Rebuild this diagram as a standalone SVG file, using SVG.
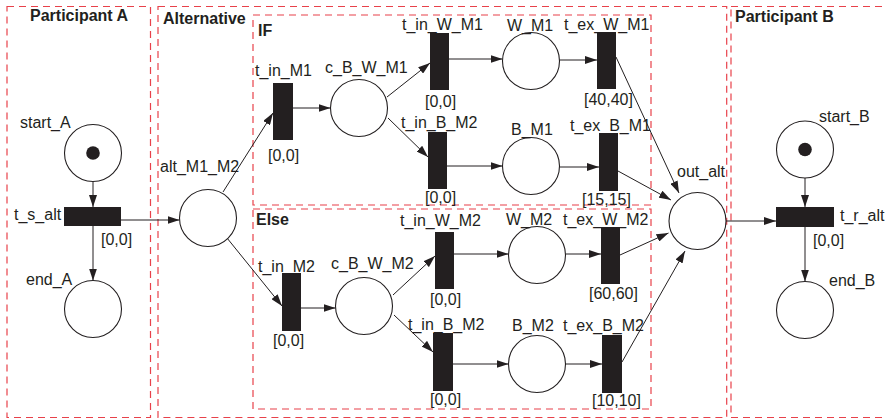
<svg xmlns="http://www.w3.org/2000/svg" width="887" height="418" viewBox="0 0 887 418">
<defs>
<marker id="ah" markerUnits="userSpaceOnUse" markerWidth="12" markerHeight="8" refX="12" refY="4" orient="auto">
<path d="M0,0 L12,4 L0,8 z" fill="#231f20"/>
</marker>
<style>
.box{fill:none;stroke:#e8414a;stroke-width:1.2;stroke-dasharray:7,5}
.pl{fill:#fff;stroke:#231f20;stroke-width:1.1}
.tok{fill:#231f20}
.tr{fill:#231f20}
.lbl{font-family:"Liberation Sans",Arial,sans-serif;font-size:16px;fill:#231f20}
.ttl{font-family:"Liberation Sans",Arial,sans-serif;font-size:16px;font-weight:bold;fill:#231f20}
#connectors line{stroke:#231f20;stroke-width:1;marker-end:url(#ah)}
</style>
</defs>
<rect width="887" height="418" fill="#fff"/>

<g id="containers">
<rect class="box" x="7" y="6.5" width="143.5" height="411"/>
<rect class="box" x="158" y="6.5" width="568.7" height="411"/>
<rect class="box" x="731" y="6.5" width="170" height="411"/>
<rect class="box" x="253" y="15" width="398" height="190"/>
<rect class="box" x="253" y="209" width="398" height="200"/>
<text class="ttl" x="30" y="21">Participant A</text>
<text class="ttl" x="163" y="24">Alternative</text>
<text class="ttl" x="735" y="21.5">Participant B</text>
<text class="ttl" x="258" y="36">IF</text>
<text class="ttl" x="256" y="225">Else</text>
</g>

<g id="connectors">
<line x1="93" y1="181.5" x2="93" y2="207"/>
<line x1="93" y1="226" x2="93" y2="280.5"/>
<line x1="121" y1="220" x2="179.5" y2="220"/>
<line x1="223" y1="192" x2="273" y2="113"/>
<line x1="227" y1="238" x2="282" y2="306"/>
<line x1="293" y1="108" x2="330.5" y2="108"/>
<line x1="387" y1="97" x2="430" y2="63"/>
<line x1="388" y1="118" x2="428" y2="157"/>
<line x1="449" y1="59" x2="502.5" y2="59"/>
<line x1="559.5" y1="60" x2="597" y2="60"/>
<line x1="447" y1="166" x2="502.5" y2="166"/>
<line x1="559.5" y1="167" x2="599" y2="167"/>
<line x1="301" y1="308" x2="335.5" y2="308"/>
<line x1="393" y1="295" x2="435" y2="256"/>
<line x1="394" y1="315" x2="433" y2="352"/>
<line x1="454" y1="254" x2="508.5" y2="254"/>
<line x1="565.5" y1="254" x2="601" y2="254"/>
<line x1="453" y1="364" x2="508.5" y2="364"/>
<line x1="565.5" y1="364" x2="602" y2="364"/>
<line x1="616" y1="57" x2="679" y2="193"/>
<line x1="618" y1="171" x2="671" y2="200"/>
<line x1="620" y1="255" x2="668.5" y2="233"/>
<line x1="622" y1="362" x2="685" y2="251"/>
<line x1="726" y1="221" x2="776" y2="221"/>
<line x1="805" y1="178" x2="805" y2="207"/>
<line x1="805" y1="227" x2="805" y2="281.5"/>
</g>

<g id="start_A"><circle class="pl" cx="93" cy="153" r="28.5"/><circle class="tok" cx="93" cy="153" r="6.8"/><text class="lbl" x="20" y="128">start_A</text></g>
<g id="end_A"><circle class="pl" cx="93" cy="309" r="28.5"/><text class="lbl" x="26" y="285">end_A</text></g>
<g id="t_s_alt"><rect class="tr" x="64" y="207" width="57" height="19"/><text class="lbl" x="14" y="220">t_s_alt</text><text class="lbl" x="101" y="245">[0,0]</text></g>
<g id="alt_M1_M2"><circle class="pl" cx="208" cy="218" r="28.5"/><text class="lbl" x="160" y="171.5">alt_M1_M2</text></g>

<g id="t_in_M1"><rect class="tr" x="273" y="83" width="20" height="57"/><text class="lbl" x="255" y="76">t_in_M1</text><text class="lbl" x="268" y="161">[0,0]</text></g>
<g id="c_B_W_M1"><circle class="pl" cx="359" cy="108" r="28.5"/><text class="lbl" x="325" y="73">c_B_W_M1</text></g>
<g id="t_in_W_M1"><rect class="tr" x="430" y="33" width="19" height="57"/><text class="lbl" x="402" y="30">t_in_W_M1</text><text class="lbl" x="425" y="107">[0,0]</text></g>
<g id="t_in_B_M2_if"><rect class="tr" x="428" y="132" width="19" height="57"/><text class="lbl" x="401" y="128">t_in_B_M2</text><text class="lbl" x="425" y="203">[0,0]</text></g>
<g id="W_M1"><circle class="pl" cx="531" cy="61" r="28.5"/><text class="lbl" x="507" y="31">W_M1</text></g>
<g id="B_M1"><circle class="pl" cx="531" cy="166" r="28.5"/><text class="lbl" x="511" y="135">B_M1</text></g>
<g id="t_ex_W_M1"><rect class="tr" x="597" y="32" width="19" height="57"/><text class="lbl" x="564" y="30">t_ex_W_M1</text><text class="lbl" x="584" y="105">[40,40]</text></g>
<g id="t_ex_B_M1"><rect class="tr" x="599" y="133" width="19" height="58"/><text class="lbl" x="570" y="131">t_ex_B_M1</text><text class="lbl" x="582" y="205">[15,15]</text></g>

<g id="t_in_M2"><rect class="tr" x="282" y="273" width="19" height="58"/><text class="lbl" x="258" y="271.5">t_in_M2</text><text class="lbl" x="273" y="346">[0,0]</text></g>
<g id="c_B_W_M2"><circle class="pl" cx="364" cy="306" r="28.5"/><text class="lbl" x="331" y="269">c_B_W_M2</text></g>
<g id="t_in_W_M2"><rect class="tr" x="435" y="232" width="19" height="57"/><text class="lbl" x="400" y="226">t_in_W_M2</text><text class="lbl" x="430" y="305">[0,0]</text></g>
<g id="t_in_B_M2_else"><rect class="tr" x="433" y="333" width="20" height="58"/><text class="lbl" x="408" y="330">t_in_B_M2</text><text class="lbl" x="430" y="405">[0,0]</text></g>
<g id="W_M2"><circle class="pl" cx="537" cy="255" r="28.5"/><text class="lbl" x="506" y="225">W_M2</text></g>
<g id="B_M2"><circle class="pl" cx="537" cy="364" r="28.5"/><text class="lbl" x="512" y="331">B_M2</text></g>
<g id="t_ex_W_M2"><rect class="tr" x="601" y="227" width="19" height="57"/><text class="lbl" x="563" y="225">t_ex_W_M2</text><text class="lbl" x="589" y="299">[60,60]</text></g>
<g id="t_ex_B_M2"><rect class="tr" x="602" y="335" width="20" height="58"/><text class="lbl" x="563" y="331">t_ex_B_M2</text><text class="lbl" x="592" y="406">[10,10]</text></g>

<g id="out_alt"><circle class="pl" cx="697.5" cy="221" r="28.5"/><text class="lbl" x="677" y="177">out_alt</text></g>
<g id="start_B"><circle class="pl" cx="805" cy="149.5" r="28.5"/><circle class="tok" cx="805" cy="149.5" r="6.8"/><text class="lbl" x="819" y="122">start_B</text></g>
<g id="t_r_alt"><rect class="tr" x="776" y="207" width="58" height="20"/><text class="lbl" x="840" y="221">t_r_alt</text><text class="lbl" x="813" y="246">[0,0]</text></g>
<g id="end_B"><circle class="pl" cx="805" cy="310" r="28.5"/><text class="lbl" x="829" y="286">end_B</text></g>
</svg>
